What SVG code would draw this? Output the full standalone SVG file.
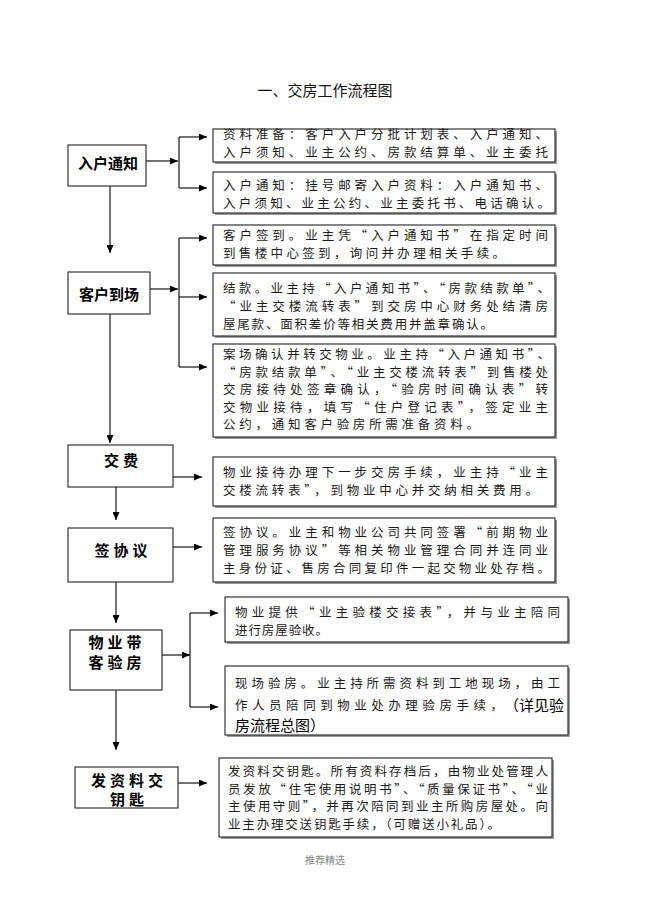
<svg xmlns="http://www.w3.org/2000/svg" width="650" height="920" viewBox="0 0 650 920">
<style>
.bg{fill:#fff}
.sh{fill:#9a9a9a}
.bx{fill:#fff;stroke:#222;stroke-width:1.1}
.t{font-family:"Noto Sans CJK SC","Liberation Sans",sans-serif;font-size:12.5px;fill:#1a1a1a}
.big{font-size:15px;fill:#000}
.n{font-family:"Noto Sans CJK SC","Liberation Sans",sans-serif;font-weight:700;font-size:15px;fill:#000;text-anchor:middle}
.n2{font-size:15px;letter-spacing:4px}
.ttl{font-family:"Noto Sans CJK SC","Liberation Sans",sans-serif;font-size:15px;fill:#111;text-anchor:middle}
.ft{font-family:"Noto Sans CJK SC","Liberation Sans",sans-serif;font-size:10px;fill:#888;text-anchor:middle}
.c{fill:none;stroke:#000;stroke-width:1.1}
</style>
<defs>
<marker id="ah" markerUnits="userSpaceOnUse" markerWidth="8" markerHeight="7" refX="8" refY="3.5" orient="auto">
<path d="M0,0 L8,3.5 L0,7 z" fill="#000"/>
</marker>
</defs>
<rect class="bg" x="0" y="0" width="650" height="920"/>
<text class="ttl" x="325" y="96">一、交房工作流程图</text>

<g id="connectors">
<path class="c" d="M146,161 H178" marker-end="url(#ah)"/>
<path class="c" d="M179,137 V188"/>
<path class="c" d="M179,137 H207" marker-end="url(#ah)"/>
<path class="c" d="M179,188 H207" marker-end="url(#ah)"/>
<path class="c" d="M110,186 V253" marker-end="url(#ah)"/>
<path class="c" d="M150,289 H178" marker-end="url(#ah)"/>
<path class="c" d="M179,238 V367"/>
<path class="c" d="M179,238 H207" marker-end="url(#ah)"/>
<path class="c" d="M179,297 H207" marker-end="url(#ah)"/>
<path class="c" d="M179,367 H207" marker-end="url(#ah)"/>
<path class="c" d="M110,314 V443" marker-end="url(#ah)"/>
<path class="c" d="M173,477 H202" marker-end="url(#ah)"/>
<path class="c" d="M116,487 V520" marker-end="url(#ah)"/>
<path class="c" d="M173,547 H202" marker-end="url(#ah)"/>
<path class="c" d="M116,582 V623" marker-end="url(#ah)"/>
<path class="c" d="M162,655 H190" marker-end="url(#ah)"/>
<path class="c" d="M190,613 V707"/>
<path class="c" d="M190,613 H218" marker-end="url(#ah)"/>
<path class="c" d="M190,707 H218" marker-end="url(#ah)"/>
<path class="c" d="M116,690 V750" marker-end="url(#ah)"/>
<path class="c" d="M178,783 H207" marker-end="url(#ah)"/>
</g>

<g id="node-ruhu">
<rect class="bx" x="68" y="145" width="78" height="41"/>
<text class="n" x="108" y="169">入户通知</text>
</g>
<g id="box-ziliao">
<rect class="sh" x="215" y="131" width="342" height="33"/>
<rect class="bx" x="213" y="129" width="342" height="33"/>
<text class="t" x="223" y="139" textLength="325" lengthAdjust="spacing">资料准备：客户入户分批计划表、入户通知、</text>
<text class="t" x="223" y="157" textLength="325" lengthAdjust="spacing">入户须知、业主公约、房款结算单、业主委托</text>
</g>
<g id="box-tongzhi">
<rect class="sh" x="215" y="174" width="342" height="41"/>
<rect class="bx" x="213" y="172" width="342" height="41"/>
<text class="t" x="223" y="190" textLength="325" lengthAdjust="spacing">入户通知：挂号邮寄入户资料：入户通知书、</text>
<text class="t" x="223" y="208" textLength="327" lengthAdjust="spacing">入户须知、业主公约、业主委托书、电话确认。</text>
</g>

<g id="node-daochang">
<rect class="bx" x="68" y="272" width="82" height="42"/>
<text class="n" x="109" y="300">客户到场</text>
</g>
<g id="box-qiandao">
<rect class="sh" x="215" y="227" width="342" height="40"/>
<rect class="bx" x="213" y="225" width="342" height="40"/>
<text class="t" x="223" y="240" textLength="325" lengthAdjust="spacing">客户签到。业主凭“入户通知书”在指定时间</text>
<text class="t" x="223" y="258" textLength="282" lengthAdjust="spacing">到售楼中心签到，询问并办理相关手续。</text>
</g>
<g id="box-jiekuan">
<rect class="sh" x="215" y="275" width="342" height="63"/>
<rect class="bx" x="213" y="273" width="342" height="63"/>
<text class="t" x="223" y="293" textLength="327" lengthAdjust="spacing">结款。业主持“入户通知书”、“房款结款单”、</text>
<text class="t" x="223" y="311" textLength="325" lengthAdjust="spacing">“业主交楼流转表”到交房中心财务处结清房</text>
<text class="t" x="223" y="329" textLength="270" lengthAdjust="spacing">屋尾款、面积差价等相关费用并盖章确认。</text>
</g>
<g id="box-anchang">
<rect class="sh" x="215" y="346" width="342" height="93"/>
<rect class="bx" x="213" y="344" width="342" height="93"/>
<text class="t" x="223" y="359" textLength="327" lengthAdjust="spacing">案场确认并转交物业。业主持“入户通知书”、</text>
<text class="t" x="223" y="376.5" textLength="325" lengthAdjust="spacing">“房款结款单”、“业主交楼流转表”到售楼处</text>
<text class="t" x="223" y="394" textLength="325" lengthAdjust="spacing">交房接待处签章确认，“验房时间确认表”转</text>
<text class="t" x="223" y="411.5" textLength="325" lengthAdjust="spacing">交物业接待，填写“住户登记表”，签定业主</text>
<text class="t" x="223" y="429" textLength="256" lengthAdjust="spacing">公约，通知客户验房所需准备资料。</text>
</g>

<g id="node-jiaofei">
<rect class="bx" x="68" y="445" width="105" height="42"/>
<text class="n n2" x="123" y="466">交费</text>
</g>
<g id="box-jiaofei">
<rect class="sh" x="215" y="459" width="342" height="49"/>
<rect class="bx" x="213" y="457" width="342" height="49"/>
<text class="t" x="223" y="477" textLength="325" lengthAdjust="spacing">物业接待办理下一步交房手续，业主持“业主</text>
<text class="t" x="223" y="495" textLength="315" lengthAdjust="spacing">交楼流转表”，到物业中心并交纳相关费用。</text>
</g>

<g id="node-xieyi">
<rect class="bx" x="68" y="528" width="105" height="54"/>
<text class="n n2" x="123" y="556">签协议</text>
</g>
<g id="box-xieyi">
<rect class="sh" x="215" y="520" width="342" height="64"/>
<rect class="bx" x="213" y="518" width="342" height="64"/>
<text class="t" x="223" y="537" textLength="325" lengthAdjust="spacing">签协议。业主和物业公司共同签署“前期物业</text>
<text class="t" x="223" y="555" textLength="325" lengthAdjust="spacing">管理服务协议”等相关物业管理合同并连同业</text>
<text class="t" x="223" y="573" textLength="327" lengthAdjust="spacing">主身份证、售房合同复印件一起交物业处存档。</text>
</g>

<g id="node-yanfang">
<rect class="bx" x="70" y="630" width="92" height="60"/>
<text class="n n2" x="117" y="648">物业带</text>
<text class="n n2" x="117" y="668">客验房</text>
</g>
<g id="box-jiaojie">
<rect class="sh" x="227" y="599" width="343" height="45"/>
<rect class="bx" x="225" y="597" width="343" height="45"/>
<text class="t" x="235" y="617" textLength="325" lengthAdjust="spacing">物业提供“业主验楼交接表”，并与业主陪同</text>
<text class="t" x="235" y="635" textLength="93" lengthAdjust="spacing">进行房屋验收。</text>
</g>
<g id="box-xianchang">
<rect class="sh" x="227" y="668" width="343" height="69"/>
<rect class="bx" x="225" y="666" width="343" height="69"/>
<text class="t" x="235" y="688" textLength="325" lengthAdjust="spacing">现场验房。业主持所需资料到工地现场，由工</text>
<text class="t" x="235" y="710" textLength="268" lengthAdjust="spacing">作人员陪同到物业处办理验房手续，</text>
<text class="t big" x="504" y="711">（详见验</text>
<text class="t big" x="235" y="731">房流程总图）</text>
</g>

<g id="node-yaoshi">
<rect class="bx" x="75" y="767" width="103" height="41"/>
<text class="n n2" x="129" y="785.5">发资料交</text>
<text class="n n2" x="129" y="805">钥匙</text>
</g>
<g id="box-yaoshi">
<rect class="sh" x="221" y="760" width="333" height="79"/>
<rect class="bx" x="219" y="758" width="333" height="79"/>
<text class="t" x="228" y="776" textLength="320" lengthAdjust="spacing">发资料交钥匙。所有资料存档后，由物业处管理人</text>
<text class="t" x="228" y="793.5" textLength="320" lengthAdjust="spacing">员发放“住宅使用说明书”、“质量保证书”、“业</text>
<text class="t" x="228" y="811" textLength="320" lengthAdjust="spacing">主使用守则”，并再次陪同到业主所购房屋处。向</text>
<text class="t" x="228" y="828.5" textLength="272" lengthAdjust="spacing">业主办理交送钥匙手续，（可赠送小礼品）。</text>
</g>

<text class="ft" x="325" y="864">推荐精选</text>
</svg>
